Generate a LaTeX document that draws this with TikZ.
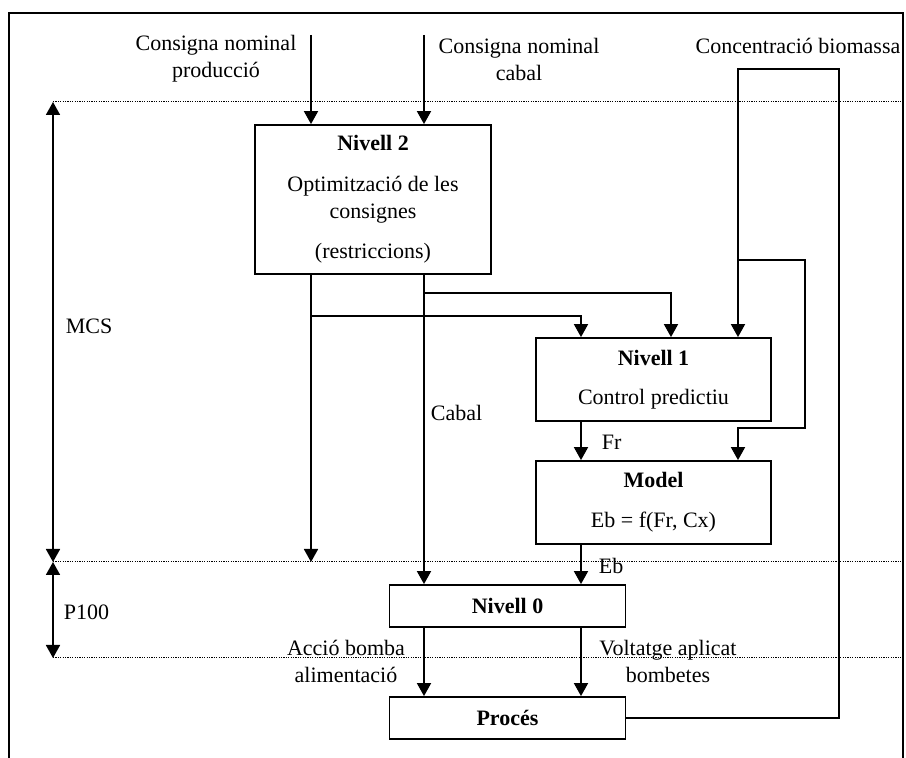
\documentclass[tikz,border=0pt]{standalone}
\usepackage{fontspec}
\setmainfont{Liberation Serif}
\usetikzlibrary{arrows.meta,positioning}
\begin{document}
\begin{tikzpicture}[x=0.5pt,y=-0.5pt,>={Triangle[width=7pt,length=6.5pt]},
font=\fontsize{11}{13.5}\selectfont,line width=0.9pt,
box/.style={draw,inner sep=0pt,align=center,minimum width=118pt},
lbl/.style={align=center,inner sep=0pt},
arr/.style={->},
guide/.style={line width=0.5pt,dash pattern=on 0.6pt off 0.6pt}]
\useasboundingbox (0,0) rectangle (906,758);
\draw (9,758) -- (9,13) -- (903,13) -- (903,758);
\coordinate (mT) at (53,102);
\coordinate (mM) at (53,562);
\coordinate (mB) at (53,658);
\draw[guide] (mT) -- (903,102);
\draw[guide] (mM) -- (903,562);
\draw[guide] (mB) -- (903,658);
\node[box,minimum height=74.5pt] (n2) at (373,199.5) {\textbf{Nivell 2}\\[7pt]Optimització de les\\consignes\\[6.5pt](restriccions)};
\node[box,minimum width=117.5pt,minimum height=41.5pt] (n1) at (653.5,379.5) {\textbf{Nivell 1}\\[6pt]Control predictiu};
\node[box,minimum width=117.5pt,minimum height=41.5pt] (model) at (653.5,502.5) {\textbf{Model}\\[6.5pt]Eb = f(Fr, Cx)};
\node[box,minimum height=21pt] (n0) at (507.5,606) {\textbf{Nivell 0}};
\node[box,minimum height=21pt] (proc) at (507.5,718) {\textbf{Procés}};
\node[lbl] (cprod) at (216,59) {Consigna nominal\\producció};
\node[lbl] (ccab) at (519,59) {Consigna nominal\\cabal};
\node[lbl] (cbio) at (798,46) {Concentració biomassa};
\node[lbl,anchor=west] (mcs) at (65,326) {MCS};
\node[lbl,anchor=west] (p100) at (63,612) {P100};
\node[lbl,anchor=west] (cabal) at (430,413) {Cabal};
\node[lbl,anchor=west] (fr) at (601,442) {Fr};
\node[lbl,anchor=west] (eb) at (598,566) {Eb};
\node[lbl] (accio) at (346,661) {Acció bomba\\alimentació};
\node[lbl] (volt) at (668,661) {Voltatge aplicat\\bombetes};
\coordinate (inA) at (311,35);
\coordinate (inB) at (424,35);
\coordinate (jA) at (311,316);
\coordinate (jB) at (424,293);
\coordinate (frX) at (581,0);
\coordinate (cbX) at (671,0);
\coordinate (bR) at (839,69);
\coordinate (bL) at (738,69);
\coordinate (jC) at (738,260);
\coordinate (kC) at (805,428);
\draw[arr] (inA) -- (inA |- n2.north);
\draw[arr] (inB) -- (inB |- n2.north);
\draw[arr] (n2.south -| inA) -- (inA |- mM);
\draw[arr] (jA) -| (frX |- n1.north);
\draw[arr] (jB) -| (cbX |- n1.north);
\draw[arr] (n2.south -| inB) -- (inB |- n0.north);
\draw[arr] (proc.east) -| (bR) -- (bL) -- (bL |- n1.north);
\draw[arr] (jC) -| (kC) -| (bL |- model.north);
\draw[arr] (frX |- n1.south) -- (frX |- model.north);
\draw[arr] (frX |- model.south) -- (frX |- n0.north);
\draw[arr] (inB |- n0.south) -- (inB |- proc.north);
\draw[arr] (frX |- n0.south) -- (frX |- proc.north);
\draw[<->] (mT) -- (mM);
\draw[<->] (mM) -- (mB);
\end{tikzpicture}
\end{document}
